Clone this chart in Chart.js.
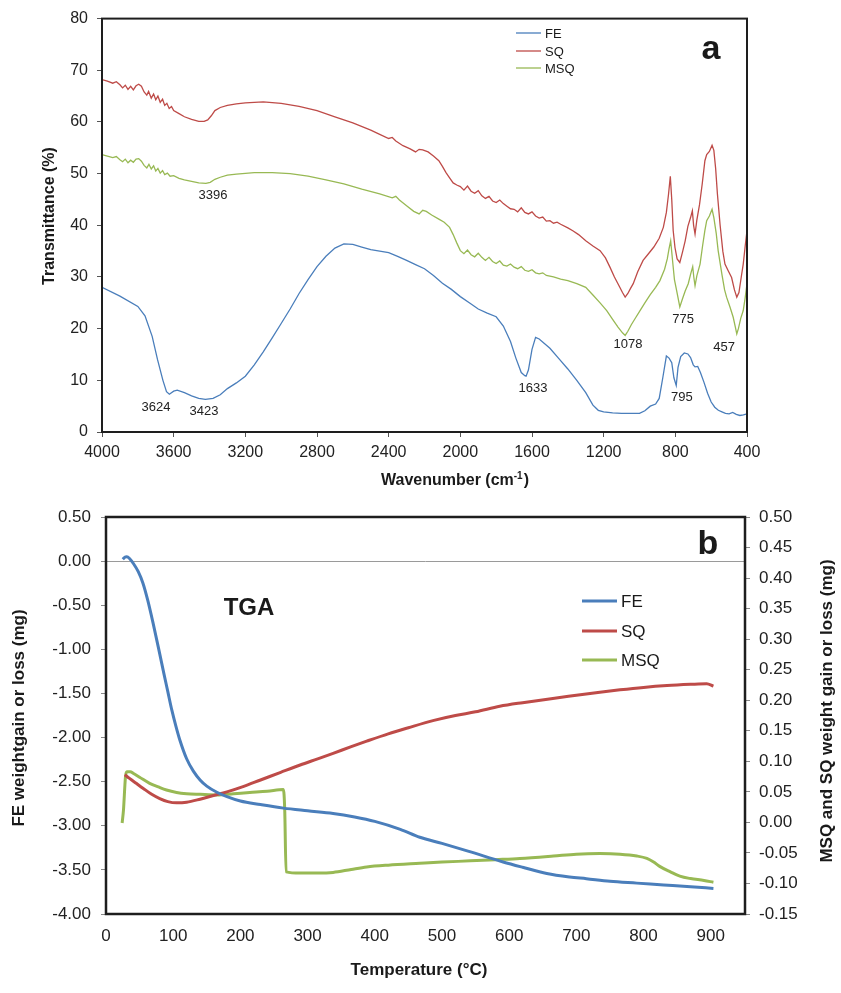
<!DOCTYPE html>
<html>
<head>
<meta charset="utf-8">
<script src="https://cdn.jsdelivr.net/npm/chart.js@4.4.0/dist/chart.umd.min.js"></script>
<style>
  body { margin: 0; background: #fff; }
  #wrap { position: relative; width: 841px; height: 993px; }
  canvas { position: absolute; left: 0; }
  #ftir { top: 0; }
  #tga { top: 490px; }
</style>
</head>
<body>
<div id="wrap">
  <canvas id="ftir" width="841" height="490"></canvas>
  <canvas id="tga" width="841" height="503"></canvas>
</div>
<script>
// ---- data: panel a (FTIR), [wavenumber, transmittance %] ----
const seriesNames = ['FE', 'SQ', 'MSQ'];
const seriesColors = ['#4a7ebb', '#be4b48', '#98b954'];

const feSpectrum = [
  [4000,28],[3900,26.3],[3800,24.3],[3760,22.5],[3720,18.5],[3690,14],[3660,10],[3640,7.8],[3624,7.3],
  [3600,7.9],[3580,8.1],[3540,7.6],[3500,7],[3460,6.5],[3423,6.3],[3380,6.5],[3340,7.2],[3300,8.4],
  [3250,9.5],[3200,10.8],[3150,13],[3100,15.5],[3050,18.2],[3000,21],[2950,23.8],[2900,26.8],[2850,29.5],
  [2800,32],[2750,34],[2700,35.6],[2650,36.4],[2600,36.3],[2550,35.8],[2500,35.3],[2450,35],[2400,34.7],
  [2350,34],[2300,33.2],[2250,32.4],[2200,31.6],[2150,30.3],[2100,28.8],[2050,27.6],[2000,26.2],[1950,25],
  [1900,23.8],[1850,23],[1800,22.3],[1760,20.5],[1720,17.5],[1690,14.3],[1660,11.5],[1640,10.9],[1633,10.8],
  [1620,12],[1600,16],[1580,18.3],[1560,18],[1500,16.2],[1450,14.2],[1400,12.2],[1350,10],[1300,7.6],
  [1260,5.2],[1230,4.2],[1200,3.9],[1150,3.7],[1100,3.6],[1050,3.6],[1000,3.6],[970,4.1],[940,5],[910,5.4],
  [890,6.5],[870,10.5],[850,14.7],[835,14.3],[820,13.4],[808,10.5],[795,9],[785,12.5],[770,14.6],[750,15.3],
  [730,15.1],[715,14.4],[700,13],[690,12.6],[675,12.7],[660,11.5],[640,9.6],[620,7.5],[600,5.8],[580,4.8],
  [560,4.2],[540,3.9],[520,3.6],[500,3.5],[480,3.8],[460,3.4],[440,3.2],[420,3.3],[400,3.5]
];

const sqSpectrum = [
  [4000,68.2],[3970,67.9],[3940,67.5],[3920,67.8],[3900,67.2],[3885,66.6],[3870,67.1],[3855,66.3],[3840,66.9],
  [3825,66.2],[3810,67],[3795,67.3],[3780,66.9],[3765,65.8],[3750,65.2],[3740,65.9],[3725,64.6],[3712,65.4],
  [3700,64.3],[3688,65],[3675,63.8],[3662,64.4],[3650,63.2],[3638,63.6],[3625,62.6],[3612,63],[3600,62.2],
  [3570,61.6],[3540,61],[3500,60.5],[3460,60.1],[3430,60.1],[3410,60.4],[3390,61.2],[3370,62.2],[3340,62.8],
  [3300,63.2],[3250,63.5],[3200,63.7],[3100,63.9],[3000,63.6],[2900,63],[2800,62.2],[2700,61],[2600,59.8],
  [2500,58.4],[2450,57.6],[2400,56.8],[2380,57],[2360,56.3],[2320,55.4],[2280,54.8],[2250,54.2],[2230,54.7],
  [2210,54.6],[2180,54.2],[2150,53.4],[2120,52.5],[2100,51.4],[2080,50.2],[2060,49.2],[2040,48.2],[2020,47.8],
  [2000,47.5],[1980,46.8],[1960,47.6],[1940,46.6],[1920,46.2],[1900,46.7],[1880,45.7],[1860,45.2],[1840,45.6],
  [1820,44.7],[1800,44.4],[1780,44.9],[1760,44.2],[1740,43.7],[1720,43.2],[1700,43.1],[1680,42.6],[1660,43.4],
  [1640,42.5],[1620,42.2],[1600,42.6],[1580,41.8],[1560,41.4],[1540,41.6],[1520,40.8],[1500,40.9],[1480,40.4],
  [1460,40.6],[1440,40.2],[1400,39.5],[1370,38.9],[1340,38.2],[1300,37],[1260,36],[1220,35.1],[1190,33.7],
  [1165,31.9],[1140,30],[1110,28],[1095,27],[1080,26.1],[1065,26.8],[1050,27.8],[1035,28.7],[1010,31],
  [980,33.2],[950,34.5],[920,35.8],[890,37.5],[867,39.6],[850,42.5],[838,46],[828,49.5],[820,45],[812,39],
  [802,35.7],[790,33.5],[775,32.8],[760,34.8],[745,37],[730,39.8],[715,41.5],[705,42.8],[698,40],[690,38.3],
  [680,41],[665,44],[650,48],[635,52.5],[625,53.7],[610,54.3],[595,55.5],[585,54.5],[575,51],[565,46],
  [550,40],[535,35],[523,32.5],[505,31.2],[486,29.9],[470,27.5],[457,26.1],[445,27],[432,30],[421,32.5],
  [410,36],[400,39]
];

const msqSpectrum = [
  [4000,53.7],[3970,53.4],[3940,53.1],[3920,53.3],[3900,52.7],[3885,52.3],[3870,52.8],[3855,52.1],[3840,52.6],
  [3825,52.2],[3810,52.8],[3795,52.9],[3780,52.4],[3765,51.6],[3750,51.1],[3738,51.8],[3725,50.9],[3712,51.5],
  [3700,50.5],[3688,51],[3675,50.1],[3662,50.6],[3650,49.8],[3635,50.1],[3620,49.5],[3600,49.6],[3570,49.1],
  [3540,48.8],[3500,48.5],[3460,48.2],[3420,48.1],[3396,48.3],[3370,48.9],[3340,49.3],[3300,49.7],[3250,49.9],
  [3150,50.2],[3050,50.2],[2950,50],[2850,49.5],[2750,48.8],[2650,48],[2550,47],[2450,46.1],[2380,45.3],
  [2360,45.6],[2340,44.9],[2300,43.8],[2260,42.7],[2230,42.2],[2210,42.9],[2190,42.7],[2160,42],[2120,41.2],
  [2090,40.6],[2060,39.6],[2040,38.2],[2020,36.6],[2000,35.1],[1980,34.5],[1960,35.2],[1940,34.3],[1920,33.9],
  [1900,34.6],[1880,33.8],[1860,33.2],[1840,33.8],[1820,33],[1800,32.6],[1780,33.1],[1760,32.3],[1740,32.1],
  [1720,32.5],[1700,31.9],[1680,31.6],[1660,32],[1640,31.3],[1620,31.1],[1600,31.4],[1580,30.8],[1560,30.6],
  [1540,30.8],[1520,30.3],[1480,30],[1440,29.6],[1400,29.3],[1350,28.7],[1300,28],[1260,26.5],[1220,25],
  [1183,23.5],[1150,21.8],[1120,20.3],[1095,19.2],[1080,18.7],[1065,19.5],[1045,20.8],[1020,22.2],[997,23.5],
  [970,25],[940,26.6],[910,28],[886,29.3],[860,31.5],[845,33.5],[835,35.5],[826,37],[815,33],[805,29.5],
  [793,27.4],[775,24.2],[760,25.8],[745,27.3],[728,28.7],[715,30.5],[703,32],[697,30],[690,28.3],[680,30.2],
  [662,32.5],[648,36],[635,39],[625,40.9],[610,41.8],[595,43.1],[585,41.5],[572,38.5],[561,35.1],[540,30.5],
  [525,27.5],[514,26.1],[495,24.2],[477,22.2],[465,20.3],[457,19],[448,20],[435,22],[421,23.5],[410,26],
  [400,28.7]
];

const ftirXTicks = [4000, 3600, 3200, 2800, 2400, 2000, 1600, 1200, 800, 400];
const ftirYTicks = [0, 10, 20, 30, 40, 50, 60, 70, 80];
// peak labels: [text, wavenumber, transmittance] where the text sits
const peakLabels = [
  ['3396', 3380, 45.7], ['3624', 3699, 4.8], ['3423', 3431, 3.9], ['1633', 1594, 8.5],
  ['1078', 1064, 17.0], ['775', 757, 21.8], ['457', 528, 16.4], ['795', 763, 6.7]
];

// ---- data: panel b (TGA), [temperature C, mg] ----
const feTga = [
  [25,0.02],[28,0.045],[31,0.05],[35,0.03],[41,-0.03],[48,-0.12],[55,-0.25],[62,-0.44],[70,-0.7],[78,-0.98],
  [86,-1.27],[92,-1.48],[98,-1.69],[104,-1.87],[110,-2.03],[120,-2.24],[130,-2.38],[140,-2.48],[150,-2.55],
  [165,-2.62],[180,-2.67],[200,-2.72],[230,-2.76],[264,-2.8],[300,-2.83],[338,-2.86],[370,-2.9],[400,-2.95],
  [438,-3.04],[467,-3.13],[500,-3.2],[540,-3.29],[591,-3.41],[620,-3.47],[656,-3.54],[690,-3.58],[715,-3.6],
  [750,-3.63],[790,-3.65],[830,-3.67],[870,-3.69],[904,-3.71]
];
const sqTga = [
  [28,0.078],[35,0.072],[45,0.064],[55,0.056],[68,0.046],[80,0.039],[92,0.034],[105,0.032],[120,0.033],
  [140,0.038],[160,0.044],[180,0.05],[205,0.059],[229,0.069],[260,0.082],[289,0.094],[315,0.104],[338,0.113],
  [365,0.124],[388,0.133],[420,0.145],[450,0.155],[488,0.167],[520,0.175],[550,0.181],[586,0.19],[620,0.196],
  [665,0.203],[700,0.208],[735,0.213],[765,0.217],[800,0.221],[835,0.224],[870,0.226],[894,0.227],[904,0.223]
];
const msqTga = [
  [24,-0.001],[26,0.02],[29,0.075],[31,0.083],[36,0.083],[41,0.08],[50,0.074],[65,0.064],[78,0.058],[90,0.053],
  [105,0.049],[120,0.047],[140,0.046],[165,0.045],[190,0.047],[214,0.049],[240,0.051],[264,0.054],[266,0.02],
  [268,-0.081],[289,-0.083],[315,-0.083],[338,-0.082],[365,-0.077],[388,-0.073],[420,-0.07],[467,-0.067],
  [500,-0.065],[542,-0.063],[580,-0.061],[616,-0.059],[666,-0.055],[700,-0.052],[735,-0.051],[765,-0.052],
  [790,-0.055],[805,-0.059],[815,-0.065],[824,-0.072],[840,-0.081],[854,-0.088],[870,-0.092],[890,-0.095],
  [904,-0.098]
];

const tgaXTicks = [0, 100, 200, 300, 400, 500, 600, 700, 800, 900];
const feAxisTicks = [0.5, 0, -0.5, -1, -1.5, -2, -2.5, -3, -3.5, -4];
const sqAxisTicks = [0.5, 0.45, 0.4, 0.35, 0.3, 0.25, 0.2, 0.15, 0.1, 0.05, 0, -0.05, -0.1, -0.15];

// ---- common ----
const FONT = '"Liberation Sans", Arial, sans-serif';
Chart.defaults.font.family = FONT;
Chart.defaults.color = '#222';

const toPoints = arr => arr.map(([x, y]) => ({ x, y }));
const useTicks = list => scale => { scale.ticks = list.map(v => ({ value: v })); };
const fix2 = v => (Math.abs(v) < 1e-9 ? 0 : v).toFixed(2);

function drawFrame(chart, w) {
  const { ctx, chartArea: a } = chart;
  ctx.save();
  ctx.strokeStyle = '#1e1e1e';
  ctx.lineWidth = w;
  ctx.strokeRect(a.left, a.top, a.right - a.left, a.bottom - a.top);
  ctx.restore();
}

function drawText(ctx, str, x, y, font, rot) {
  ctx.save();
  ctx.translate(x, y);
  if (rot) ctx.rotate(rot);
  ctx.font = font;
  ctx.fillStyle = '#1a1a1a';
  ctx.textAlign = 'center';
  ctx.textBaseline = 'middle';
  ctx.fillText(str, 0, 0);
  ctx.restore();
}

function drawLegend(chart, x0, x1, ys, font, lw) {
  const ctx = chart.ctx;
  ctx.save();
  chart.data.datasets.forEach((ds, i) => {
    ctx.strokeStyle = ds.borderColor;
    ctx.lineWidth = lw;
    ctx.beginPath();
    ctx.moveTo(x0, ys[i]);
    ctx.lineTo(x1, ys[i]);
    ctx.stroke();
    ctx.font = font;
    ctx.fillStyle = '#1a1a1a';
    ctx.textAlign = 'left';
    ctx.textBaseline = 'middle';
    ctx.fillText(ds.label, x1 + 4, ys[i] + 1);
  });
  ctx.restore();
}

// ---- panel a ----
const ftirDecor = {
  id: 'ftirDecor',
  afterDraw(chart) {
    const { ctx, scales: { x, y } } = chart;
    drawFrame(chart, 2);
    ctx.save();
    ctx.font = '13px ' + FONT;
    ctx.fillStyle = '#222';
    ctx.textAlign = 'center';
    ctx.textBaseline = 'middle';
    peakLabels.forEach(([t, wn, v]) => ctx.fillText(t, x.getPixelForValue(wn), y.getPixelForValue(v)));
    ctx.restore();

    drawLegend(chart, 516, 541, [33, 51, 68], '13px ' + FONT, 1.3);
    drawText(ctx, 'a', 711, 50, 'bold 34px ' + FONT);
    drawText(ctx, 'Transmittance (%)', 50, 216, 'bold 16px ' + FONT, -Math.PI / 2);

    // x title with superscript
    ctx.save();
    ctx.fillStyle = '#1a1a1a';
    ctx.textBaseline = 'middle';
    const big = 'bold 16px ' + FONT, small = 'bold 10px ' + FONT;
    ctx.font = big;
    const w1 = ctx.measureText('Wavenumber (cm').width, w3 = ctx.measureText(')').width;
    ctx.font = small;
    const w2 = ctx.measureText('-1').width + 1;
    let sx = 455 - (w1 + w2 + w3) / 2;
    ctx.font = big;
    ctx.fillText('Wavenumber (cm', sx, 481);
    ctx.font = small;
    ctx.fillText('-1', sx + w1, 476);
    ctx.font = big;
    ctx.fillText(')', sx + w1 + w2, 481);
    ctx.restore();
  }
};

new Chart(document.getElementById('ftir'), {
  type: 'line',
  data: {
    datasets: [feSpectrum, sqSpectrum, msqSpectrum].map((s, i) => ({
      label: seriesNames[i],
      data: toPoints(s),
      borderColor: seriesColors[i],
      borderWidth: 1.3,
      pointRadius: 0,
      tension: 0,
      fill: false
    }))
  },
  options: {
    responsive: false,
    animation: false,
    events: [],
    layout: { padding: { left: 0, top: 17, right: 94, bottom: 0 } },
    plugins: { legend: { display: false }, tooltip: { enabled: false } },
    scales: {
      x: {
        type: 'linear',
        reverse: true,
        min: 400,
        max: 4000,
        afterBuildTicks: useTicks(ftirXTicks),
        afterFit: s => { s.height = 58; },
        border: { display: false },
        grid: { drawOnChartArea: false, tickLength: 5, tickColor: '#555' },
        ticks: { font: { size: 16 }, padding: 6, maxRotation: 0, color: '#222', callback: v => String(v) }
      },
      y: {
        min: 0,
        max: 80,
        afterBuildTicks: useTicks(ftirYTicks),
        afterFit: s => { s.width = 102; },
        border: { display: false },
        grid: { drawOnChartArea: false, tickLength: 5, tickColor: '#555' },
        ticks: { font: { size: 16 }, padding: 9, color: '#222', callback: v => String(v) }
      }
    }
  },
  plugins: [ftirDecor]
});

// ---- panel b ----
const tgaDecor = {
  id: 'tgaDecor',
  afterDraw(chart) {
    const ctx = chart.ctx;
    drawFrame(chart, 2.5);
    drawLegend(chart, 582, 617, [111, 141, 170], '17px ' + FONT, 3);
    drawText(ctx, 'b', 708, 55, 'bold 34px ' + FONT);
    drawText(ctx, 'TGA', 249, 118, 'bold 24px ' + FONT);
    drawText(ctx, 'FE weightgain or loss (mg)', 19, 228, 'bold 17px ' + FONT, -Math.PI / 2);
    drawText(ctx, 'MSQ and SQ weight gain or loss (mg)', 827, 221, 'bold 17px ' + FONT, -Math.PI / 2);
    drawText(ctx, 'Temperature (\u00B0C)', 419, 480, 'bold 17px ' + FONT);
  }
};

new Chart(document.getElementById('tga'), {
  type: 'line',
  data: {
    datasets: [feTga, sqTga, msqTga].map((s, i) => ({
      label: seriesNames[i],
      data: toPoints(s),
      yAxisID: i === 0 ? 'y' : 'y2',
      borderColor: seriesColors[i],
      borderWidth: 3,
      pointRadius: 0,
      cubicInterpolationMode: 'monotone',
      fill: false
    }))
  },
  options: {
    responsive: false,
    animation: false,
    events: [],
    layout: { padding: { left: 0, top: 27, right: 0, bottom: 0 } },
    plugins: { legend: { display: false }, tooltip: { enabled: false } },
    scales: {
      x: {
        type: 'linear',
        min: 0,
        max: 951,
        afterBuildTicks: useTicks(tgaXTicks),
        afterFit: s => { s.height = 79; },
        border: { display: false },
        grid: { drawOnChartArea: false, tickLength: 5, tickColor: 'rgba(0,0,0,0)' },
        ticks: { font: { size: 17 }, padding: 7, maxRotation: 0, color: '#222', callback: v => String(v) }
      },
      y: {
        position: 'left',
        min: -4,
        max: 0.5,
        afterBuildTicks: useTicks(feAxisTicks),
        afterFit: s => { s.width = 106; },
        border: { display: false },
        grid: {
          color: c => (c.tick && Math.abs(c.tick.value) < 1e-9 ? '#9a9a9a' : 'rgba(0,0,0,0)'),
          lineWidth: 1,
          tickLength: 5,
          tickColor: '#888'
        },
        ticks: { font: { size: 17 }, padding: 10, color: '#222', callback: v => fix2(v) }
      },
      y2: {
        position: 'right',
        min: -0.15,
        max: 0.5,
        afterBuildTicks: useTicks(sqAxisTicks),
        afterFit: s => { s.width = 96; },
        border: { display: false },
        grid: { drawOnChartArea: false, tickLength: 5, tickColor: '#888' },
        ticks: { font: { size: 17 }, padding: 9, color: '#222', callback: v => fix2(v) }
      }
    }
  },
  plugins: [tgaDecor]
});
</script>
</body>
</html>
